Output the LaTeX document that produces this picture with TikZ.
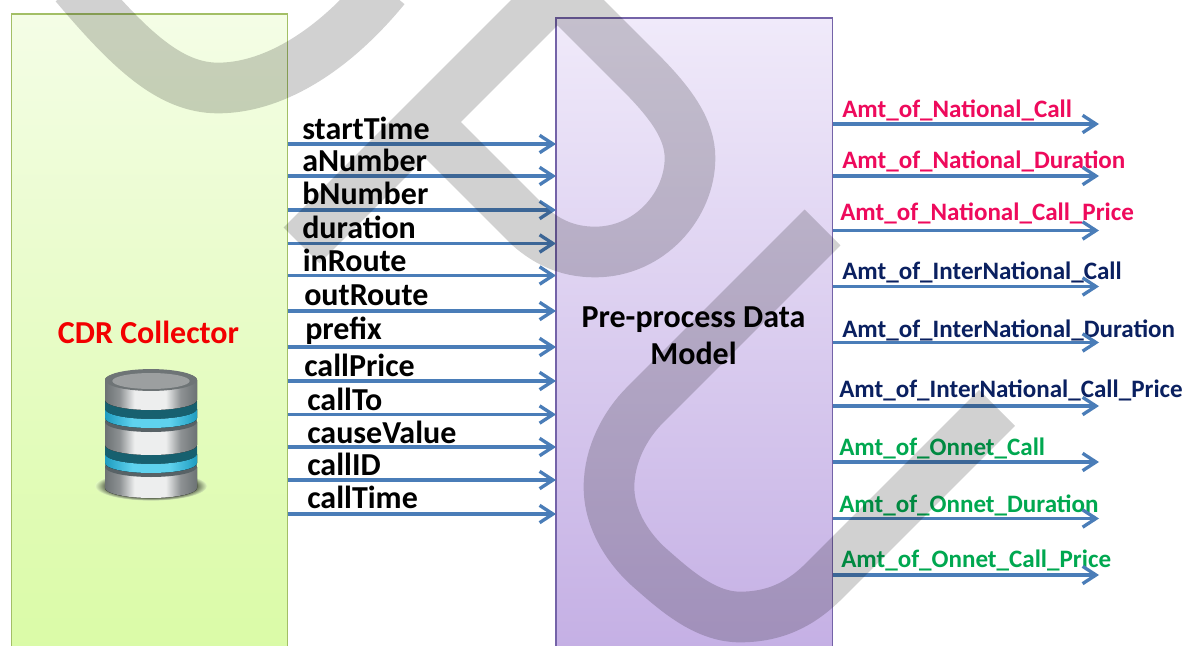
\documentclass[tikz,border=0pt]{standalone}
\usepackage{fontspec}
\setmainfont{Carlito}
\usetikzlibrary{arrows.meta}
\definecolor{flowblue}{HTML}{4A7DB8}
\definecolor{pinklabel}{HTML}{EE0A5C}
\definecolor{navylabel}{HTML}{0A2060}
\definecolor{greenlabel}{HTML}{00A850}
\definecolor{greenedge}{HTML}{A3BF66}
\definecolor{greentop}{HTML}{F4FDE6}
\definecolor{greenbot}{HTML}{DAFBA6}
\definecolor{purpleedge}{HTML}{7463A8}
\definecolor{purpletop}{HTML}{F0EAFA}
\definecolor{purplebot}{HTML}{C4AFE4}
\definecolor{metaldark}{HTML}{6C7274}
\definecolor{metalmid}{HTML}{8E9294}
\definecolor{metallight}{HTML}{EDEEEE}
\definecolor{ringdark}{HTML}{17606F}
\definecolor{ringbright}{HTML}{5FD2EE}
\definecolor{ringedge}{HTML}{1E9CC0}
\definecolor{topplate}{HTML}{6E7476}
\definecolor{topinner}{HTML}{9C9FA0}
\definecolor{slate}{HTML}{586266}
\definecolor{halo}{HTML}{E2FBBF}
\definecolor{halodark}{HTML}{3F4538}
\pgfdeclarehorizontalshading{metal}{100bp}{color(0bp)=(metaldark); color(25bp)=(metaldark); color(33bp)=(metalmid); color(41bp)=(metallight); color(58bp)=(metallight); color(66bp)=(metalmid); color(75bp)=(metaldark); color(100bp)=(metaldark)}
\pgfdeclarehorizontalshading{ringband}{100bp}{color(0bp)=(ringedge); color(25bp)=(ringedge); color(40bp)=(ringbright); color(60bp)=(ringbright); color(75bp)=(ringedge); color(100bp)=(ringedge)}
\pgfdeclareradialshading{dbhalo}{\pgfpoint{0bp}{0bp}}{color(0bp)=(halodark); color(19bp)=(halodark); color(25bp)=(halo); color(50bp)=(halo)}
\tikzset{
  x=0.75pt,y=-0.75pt,
  box/.style={draw,line width=1.1pt,inner sep=0pt,outer sep=0pt},
  greenbox/.style={box,minimum width=207pt,draw=greenedge,top color=greentop,bottom color=greenbot},
  purplebox/.style={box,minimum width=207.5pt,draw=purpleedge,top color=purpletop,bottom color=purplebot},
  flow/.style={draw=flowblue,line width=2.7pt,-{Straight Barb[length=10pt,width=13pt,line width=2.5pt]}},
  inlabel/.style={anchor=base west,inner sep=0pt,font=\fontsize{24}{24}\selectfont\bfseries,text=black},
  outlabel/.style={anchor=base west,inner sep=0pt,font=\fontsize{18.8}{20}\selectfont\bfseries},
  natlabel/.style={outlabel,text=pinklabel},
  intlabel/.style={outlabel,text=navylabel},
  onlabel/.style={outlabel,text=greenlabel},
  title/.style={font=\fontsize{24}{28}\selectfont\bfseries,inner sep=0pt},
  mark stroke/.style={draw=black,draw opacity=0.18,line width=38pt,line join=miter,miter limit=10},
}
\newcommand{\dbdisc}[2]{% edge top y, edge bottom y
  \fill[shading=metal] (105,#1) -- (105,#2) arc[start angle=180,end angle=360,x radius=34.5pt,y radius=7.5pt] -- (197,#1) arc[start angle=0,end angle=180,x radius=34.5pt,y radius=7.5pt] -- cycle;
}
\newcommand{\dbring}[3]{% dark top, bright top, bright bottom
  \fill[ringdark] (105,#1) -- (105,#3) arc[start angle=180,end angle=360,x radius=34.5pt,y radius=7.5pt] -- (197,#1) arc[start angle=0,end angle=180,x radius=34.5pt,y radius=7.5pt] -- cycle;
  \fill[shading=ringband] (105,#2) -- (105,#3) arc[start angle=180,end angle=360,x radius=34.5pt,y radius=7.5pt] -- (197,#2) arc[start angle=360,end angle=180,x radius=34.5pt,y radius=7.5pt] -- cycle;
}
\begin{document}
\begin{tikzpicture}
\useasboundingbox (0,0) rectangle (1186,646);
\clip (0,0) rectangle (1186,646);
\fill[white] (0,0) rectangle (1186,646);
% boxes
\node[greenbox,minimum height=480pt,anchor=north west] (cdr) at (11.5,14) {};
\node[purplebox,minimum height=480pt,anchor=north west] (model) at (556,18) {};
% titles
\node[title,text=red!95!black,anchor=base] (cdrtitle) at (148.5,343) {CDR Collector};
\node[title,text=black,align=center,anchor=center] (modeltitle) at (693.5,336) {Pre-process Data\\Model};
% database icon
\shade[shading=dbhalo] (151,486) ellipse[x radius=42pt,y radius=11pt];
\dbdisc{467}{488}
\fill[slate] (151,467) ellipse[x radius=34.5pt,y radius=7.5pt];
\dbring{446}{454}{463}
\dbdisc{422}{445}
\fill[slate] (151,422) ellipse[x radius=34.5pt,y radius=7.5pt];
\dbring{401}{409}{418}
\dbdisc{380}{400}
\fill[topplate] (151,380) ellipse[x radius=34.5pt,y radius=8.2pt];
\fill[topinner] (151,381) ellipse[x radius=29pt,y radius=6pt];
% input flows
\foreach \yy/\lx/\ly/\txt/\nm in {144/302/139.5/startTime/a,176/302/171/aNumber/b,210/302/204.5/bNumber/c,243.5/302/238.5/duration/d,275.5/302.5/271/inRoute/e,311/304/305/outRoute/f,347/305/339/prefix/g,381/304/376/callPrice/h,414.5/307/410/callTo/i,447/307/443/causeValue/j,480/307/475/callID/k,514/307/508/callTime/l}{
  \node[inlabel] (in\nm) at (\lx,\ly) {\txt};
  \draw[flow] (cdr.east |- 0,\yy) -- (model.west |- 0,\yy);
}
% output flows
\foreach \yy/\lx/\ly/\txt/\sty/\nm in {124/842/117/Amt\_of\_National\_Call/natlabel/a,176/842/168/Amt\_of\_National\_Duration/natlabel/b,230.5/840/220/Amt\_of\_National\_Call\_Price/natlabel/c,286.5/842/279/Amt\_of\_InterNational\_Call/intlabel/d,342.5/842/337/Amt\_of\_InterNational\_Duration/intlabel/e,406/839/397/Amt\_of\_InterNational\_Call\_Price/intlabel/f,462/839/455/Amt\_of\_Onnet\_Call/onlabel/g,518.5/839/512/Amt\_of\_Onnet\_Duration/onlabel/h,575/841/567/Amt\_of\_Onnet\_Call\_Price/onlabel/i}{
  \node[\sty] (out\nm) at (\lx,\ly) {\txt};
  \coordinate (end\nm) at (1099,\yy);
  \draw[flow] (model.east |- end\nm) -- (end\nm);
}
% watermark strokes
\draw[mark stroke] (75,-15) .. controls (130,50) and (170,88) .. (218,88) .. controls (270,88) and (330,55) .. (385,-12);
\draw[mark stroke] (301.5,245.5) -- (557.5,-10.5) -- (640,72) .. controls (672,104) and (690,130) .. (690,158) .. controls (690,205) and (650,252) .. (595,252) .. controls (565,252) and (545,240) .. (530,227) -- (425,122);
\draw[mark stroke] (822.5,227.5) -- (645,405) .. controls (625,425) and (609,455) .. (609,487) .. controls (609,525) and (635,555) .. (650,568) .. controls (675,590) and (705,617) .. (740,617) .. controls (780,617) and (805,600) .. (825,580) -- (997,408);
\end{tikzpicture}
\end{document}
